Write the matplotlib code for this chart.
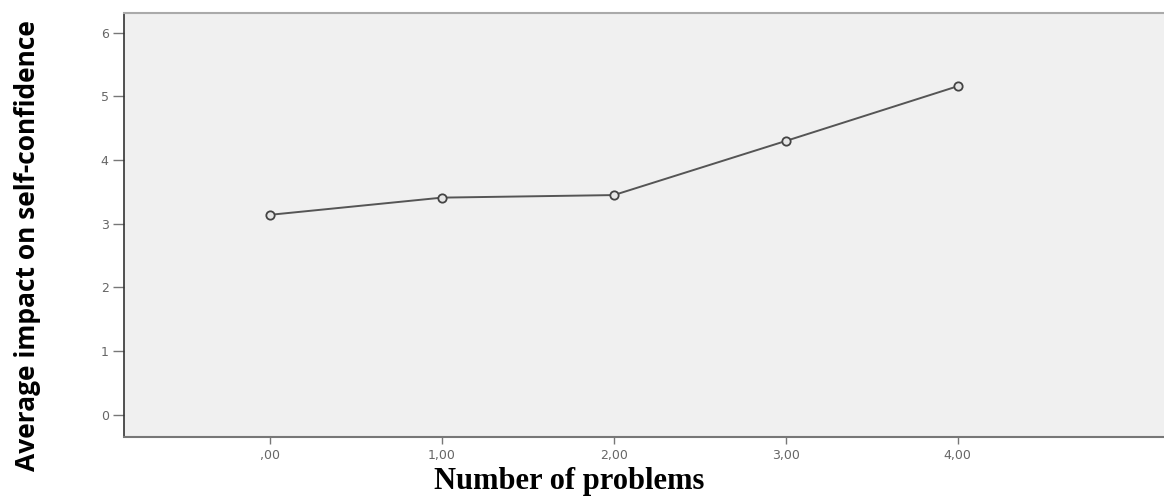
import matplotlib
matplotlib.use("Agg")
import matplotlib.pyplot as plt
import numpy as np

# data
problems = [",00", "1,00", "2,00", "3,00", "4,00"]
impact = [3.14, 3.41, 3.45, 4.30, 5.16]
y_ticks = [0, 1, 2, 3, 4, 5, 6]

W, H, DPI = 1164, 497, 100
fig = plt.figure(figsize=(W / DPI, H / DPI), dpi=DPI)
fig.patch.set_facecolor("white")

# axes box in pixels: left 124, right 1164, top 13, bottom 437
ax = fig.add_axes([124 / W, 1 - 437 / H, (1164 - 124) / W, (437 - 13) / H])
ax.set_facecolor("#f0f0f0")

x = np.arange(len(problems))
ax.plot(x, impact, color="#555555", lw=1.4, marker="o", ms=6,
        mfc="#e6e6e6", mec="#444444", mew=1.3, zorder=3)

ax.set_xlim(-0.85, 5.2)
ax.set_ylim(-0.35, 6.31)
ax.set_xticks(x)
ax.set_xticklabels(problems)
ax.set_yticks(y_ticks)

ax.tick_params(axis="y", length=8, width=1, color="#777777",
               labelsize=9, labelcolor="#666666", pad=3)
ax.tick_params(axis="x", length=5, width=1, color="#777777",
               labelsize=9, labelcolor="#666666", pad=4)

ax.spines["left"].set_color("#333333")
ax.spines["left"].set_linewidth(1.2)
ax.spines["bottom"].set_color("#777777")
ax.spines["bottom"].set_linewidth(1.5)
ax.spines["top"].set_color("#aaaaaa")
ax.spines["top"].set_linewidth(1.5)
ax.spines["right"].set_visible(False)

fig.text(569 / W, 1 - 482 / H, "Number of problems", ha="center", va="center",
         family="Liberation Serif", fontweight="bold", fontsize=22)
fig.text(28 / W, 1 - 246 / H, "Average impact on self-confidence", ha="center",
         va="center", rotation=90, family="Open Sans", fontweight="bold",
         fontsize=19)

fig.savefig("out.png", dpi=DPI)
